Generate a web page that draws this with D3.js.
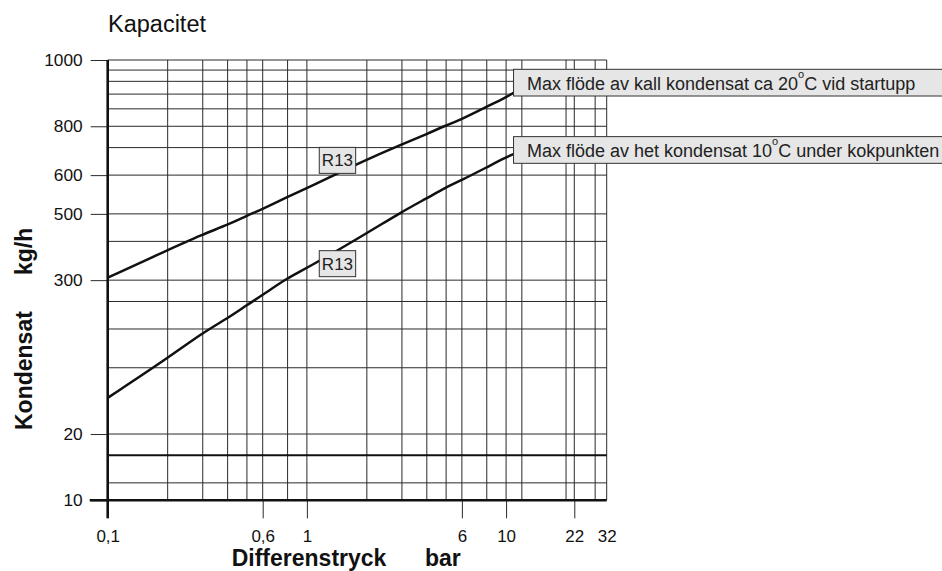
<!DOCTYPE html>
<html>
<head>
<meta charset="utf-8">
<script src="https://cdn.jsdelivr.net/npm/d3@7"></script>
<style>
  html, body { margin: 0; padding: 0; background: #fff; }
  svg { display: block; font-family: "Liberation Sans", Arial, Helvetica, sans-serif; }
</style>
</head>
<body>
<div id="chart"></div>
<script>
// Kapacitet: kondensat (kg/h) mot differenstryck (bar), log-log diagram

// x axis (bar)
const xTickValues = [0.1, 0.6, 1, 6, 10, 22, 32];
const xTickLabels = ["0,1", "0,6", "1", "6", "10", "22", "32"];
const xGridValues = [0.2, 0.3, 0.4, 0.5, 0.6, 0.8, 1, 2, 3, 4, 5, 6, 8, 10, 12, 20, 22, 28, 32];

// y axis (kg/h) - the labels are printed as in the original sheet
const yTickValues = [10, 20, 100, 200, 300, 500, 1000];
const yTickLabels = ["10", "20", "300", "500", "600", "800", "1000"];
const yGridValues = [12, 20, 40, 60, 80, 100, 150, 200, 300, 400, 500, 600, 700, 800, 900, 1000];
const yMinLine = 16;

// curves
const pressure = [0.1, 0.2, 0.3, 0.4, 0.5, 0.6, 0.8, 1, 2, 3, 4, 5, 6, 8, 10, 10.9];
const coldFlow = [102.6, 137, 161.6, 178.1, 196.3, 210.5, 239.3, 261.4, 354, 414, 461, 505, 538, 614, 677, 710];
const hotFlow  = [29.2, 44.2, 57.7, 67.1, 77.1, 85.6, 102.6, 113.2, 163.3, 204.6, 235.4, 264.1, 285, 325.5, 361.4, 374];

// curve tags
const tagTexts = ["R13", "R13"];
const tagX = [1.424, 1.424];
const tagY = [350, 118.8];

// notes at the end of each curve
const noteLead = ["Max flöde av kall kondensat ca 20", "Max flöde av het kondensat 10"];
const noteTail = ["C vid startupp", "C under kokpunkten"];
const noteX = [10.9, 10.9];
const noteY = [788.6, 390];

const W = 942, H = 571;
const svg = d3.select('#chart').append('svg').attr('width', W).attr('height', H);

const x = d3.scaleLog().domain([0.1, 32]).range([107.7, 606.7]);
const y = d3.scaleLog().domain([10, 1000]).range([500.3, 60]);

const ink = '#111';
const gridInk = '#2a2a2a';

// Grid
svg.append('g').selectAll('line').data(xGridValues).enter().append('line')
    .attr('x1', d => x(d)).attr('x2', d => x(d))
    .attr('y1', y(1000)).attr('y2', y(10))
    .attr('stroke', gridInk).attr('stroke-width', 1);

svg.append('g').selectAll('line').data(yGridValues).enter().append('line')
    .attr('x1', x(0.1)).attr('x2', x(32))
    .attr('y1', d => y(d)).attr('y2', d => y(d))
    .attr('stroke', gridInk).attr('stroke-width', 1);

svg.append('line')
    .attr('x1', x(0.1)).attr('x2', x(32))
    .attr('y1', y(yMinLine)).attr('y2', y(yMinLine))
    .attr('stroke', ink).attr('stroke-width', 2);

// Axes
const yAxis = svg.append('g').attr('transform', `translate(${x(0.1)},0)`)
    .call(d3.axisLeft(y).tickValues(yTickValues)
        .tickFormat(d => yTickLabels[yTickValues.indexOf(d)])
        .tickSize(17).tickPadding(8).tickSizeOuter(0));
yAxis.select('.domain').remove();
yAxis.selectAll('.tick line').attr('stroke', gridInk);
yAxis.selectAll('.tick text').attr('font-size', 17.3).attr('fill', ink)
    .style('font-family', '"Liberation Sans", Arial, sans-serif');

const xAxis = svg.append('g').attr('transform', `translate(0,${y(10)})`)
    .call(d3.axisBottom(x).tickValues(xTickValues)
        .tickFormat(d => xTickLabels[xTickValues.indexOf(d)])
        .tickSize(18).tickPadding(12).tickSizeOuter(0));
xAxis.select('.domain').remove();
xAxis.selectAll('.tick line').attr('stroke', gridInk);
xAxis.selectAll('.tick').filter(d => d === 32).select('line').remove();
xAxis.selectAll('.tick text').attr('font-size', 17).attr('fill', ink)
    .style('font-family', '"Liberation Sans", Arial, sans-serif');

// thick axis lines
svg.append('line')
    .attr('x1', x(0.1)).attr('x2', x(0.1))
    .attr('y1', y(1000)).attr('y2', y(10) + 18)
    .attr('stroke', ink).attr('stroke-width', 2.6);
svg.append('line')
    .attr('x1', x(0.1) - 18).attr('x2', x(32))
    .attr('y1', y(10)).attr('y2', y(10))
    .attr('stroke', ink).attr('stroke-width', 2.6);

// Curves
const line = d3.line()
    .x(d => x(d[0])).y(d => y(d[1]))
    .curve(d3.curveBasis);

[coldFlow, hotFlow].forEach(series => {
    svg.append('path')
        .datum(pressure.map((p, i) => [p, series[i]]))
        .attr('d', line)
        .attr('fill', 'none').attr('stroke', ink).attr('stroke-width', 2.5);
});

// Curve tags
tagTexts.forEach((t, i) => {
    const cx = x(tagX[i]), cy = y(tagY[i]);
    svg.append('rect')
        .attr('x', cx - 18.2).attr('y', cy - 13)
        .attr('width', 36.4).attr('height', 26)
        .attr('fill', '#e6e6e6').attr('stroke', '#333').attr('stroke-width', 1);
    svg.append('text')
        .attr('x', cx).attr('y', cy + 6)
        .attr('text-anchor', 'middle').attr('font-size', 17).attr('fill', '#222')
        .text(t);
});

// Notes
noteLead.forEach((t, i) => {
    const nx = x(noteX[i]), ny = y(noteY[i]);
    svg.append('rect')
        .attr('x', nx).attr('y', ny - 13.4)
        .attr('width', W - nx + 10).attr('height', 26.7)
        .attr('fill', '#e6e6e6').attr('stroke', '#333').attr('stroke-width', 1);
    const txt = svg.append('text')
        .attr('x', nx + 13.4).attr('y', ny + 7.3)
        .attr('font-size', 18).attr('fill', '#222');
    txt.append('tspan').text(t);
    txt.append('tspan').attr('font-size', 11).attr('dy', -12.5).text('o');
    txt.append('tspan').attr('dy', 12.5).text(noteTail[i]);
});

// Titles
svg.append('text')
    .attr('x', 108).attr('y', 32)
    .attr('font-size', 23.5).attr('fill', ink)
    .text('Kapacitet');

svg.append('text')
    .attr('x', 231.7).attr('y', 566)
    .attr('font-size', 23).attr('font-weight', 'bold').attr('fill', ink)
    .text('Differenstryck');
svg.append('text')
    .attr('x', 425).attr('y', 566)
    .attr('font-size', 23).attr('font-weight', 'bold').attr('fill', ink)
    .text('bar');

svg.append('text')
    .attr('transform', 'translate(31.7,430) rotate(-90)')
    .attr('font-size', 23).attr('font-weight', 'bold').attr('fill', ink)
    .text('Kondensat');
svg.append('text')
    .attr('transform', 'translate(31.7,275) rotate(-90)')
    .attr('font-size', 23).attr('font-weight', 'bold').attr('fill', ink)
    .text('kg/h');
</script>
</body>
</html>
